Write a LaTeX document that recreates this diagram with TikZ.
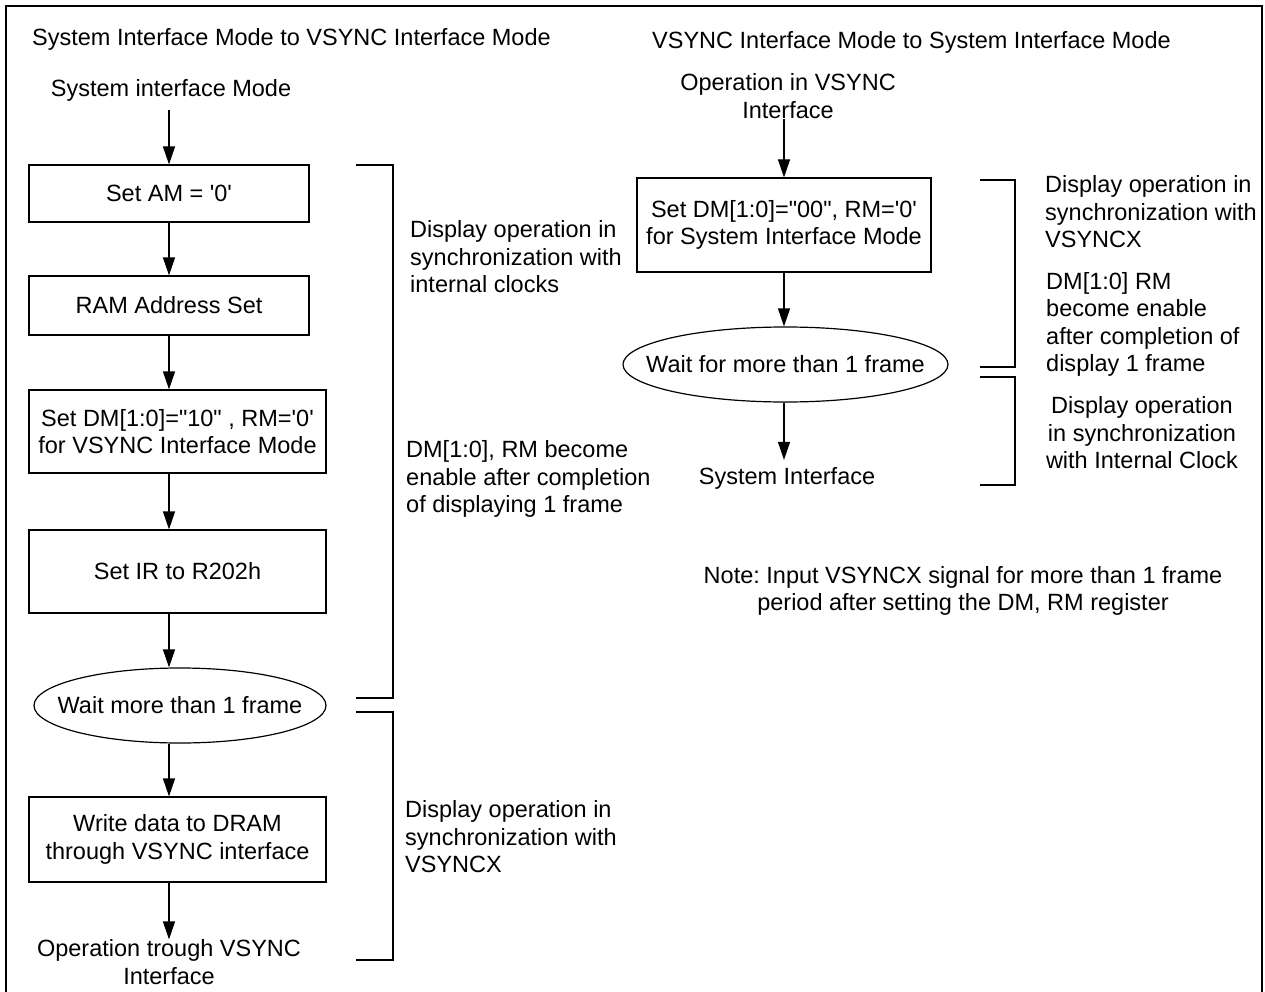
\documentclass[tikz,border=0pt]{standalone}
\usepackage{fontspec}
\setmainfont{Liberation Sans}
\frenchspacing
\usetikzlibrary{arrows.meta,shapes.geometric}
\newcommand{\sq}{\textquotesingle}
\newcommand{\dq}{\textquotedbl}
\tikzset{
  txt/.style={inner sep=0pt, align=center, font=\fontsize{23.5}{27.5}\selectfont},
  side/.style={txt, anchor=west, align=left},
  stepbox/.style={txt, rectangle, draw, line width=1.2pt},
  waitnode/.style={txt, ellipse, draw, line width=1.2pt},
  flow/.style={-{Triangle[length=18pt,width=12pt]}, line width=1.2pt},
  span/.style={line width=1.2pt},
  frame/.style={line width=1.5pt},
}

\begin{document}
\begin{tikzpicture}[x=1pt,y=-1pt]
\useasboundingbox (0,0) rectangle (1265,992);
\draw[frame] (6,1000) -- (6,6) -- (1262,6) -- (1262,1000);
% left: system -> vsync
\node[side] (ltitle) at (32,39) {System Interface Mode to VSYNC Interface Mode};
\node[txt] (sysmode) at (171,90) {System interface Mode};
\node[stepbox, minimum width=280pt, minimum height=57pt] (am) at (169,193.5) {Set AM = \sq0\sq};
\node[stepbox, minimum width=280pt, minimum height=59pt] (ram) at (169,305.5) {RAM Address Set};
\node[stepbox, minimum width=297pt, minimum height=83pt] (dm) at (177.5,431.5) {Set DM[1:0]=\dq10\dq\ , RM=\sq0\sq\\for VSYNC Interface Mode};
\node[stepbox, minimum width=297pt, minimum height=83pt] (ir) at (177.5,571.5) {Set IR to R202h};
\node[waitnode, minimum width=292pt, minimum height=75pt] (wait) at (180,705.5) {\makebox[0pt]{Wait more than 1 frame}};
\node[stepbox, minimum width=297pt, minimum height=85pt] (wr) at (177.5,839.5) {Write data to DRAM\\through VSYNC interface};
\node[txt] (opvs) at (169,962) {Operation trough VSYNC\\Interface};
\draw[flow] ([yshift=-9pt]sysmode.south -| am.north) -- (am.north);
\draw[flow] (am) -- (ram);
\draw[flow] (ram.south) -- (ram.south |- dm.north);
\draw[flow] (dm.south -| am.south) -- (ir.north -| am.south);
\draw[flow] (ir.south -| am.south) -- (wait.north -| am.south);
\draw[flow] (wait.south -| am.south) -- (wr.north -| am.south);
\draw[flow] (wr.south -| am.south) -- (opvs.north -| am.south);
\draw[span] (356,165) -- (393,165) -- (393,698) -- (356,698);
\draw[span] (356,712) -- (393,712) -- (393,960) -- (356,960);
\node[side] (lnote1) at (410,257) {Display operation in\\synchronization with\\internal clocks};
\node[side] (lnote2) at (406,479) {DM[1:0], RM become\\enable after completion\\of displaying 1 frame};
\node[side] (lnote3) at (405,837) {Display operation in\\synchronization with\\VSYNCX};
% right: vsync -> system
\node[side] (rtitle) at (652,42) {VSYNC Interface Mode to System Interface Mode};
\node[txt] (opin) at (788,96) {Operation in VSYNC\\Interface};
\node[stepbox, minimum width=294pt, minimum height=94pt] (dm0) at (784,225) {Set DM[1:0]=\dq00\dq, RM=\sq0\sq\\for System Interface Mode};
\node[waitnode, minimum width=325pt, minimum height=75pt] (wait2) at (785.5,364.5) {\makebox[0pt]{Wait for more than 1 frame}};
\node[txt] (sysif) at (787,478) {System Interface};
\draw[flow] (opin.south -| dm0.north) -- (dm0.north);
\draw[flow] (dm0.south) -- (wait2.north -| dm0.south);
\draw[flow] (wait2.south -| dm0.south) -- ([yshift=7pt]sysif.north -| dm0.south);
\draw[span] (980,180) -- (1015,180) -- (1015,367) -- (980,367);
\draw[span] (980,377) -- (1015,377) -- (1015,485) -- (980,485);
\node[side] (rnote1) at (1045,212) {Display operation in\\synchronization with\\VSYNCX};
\node[side] (rnote2) at (1046,324.5) {DM[1:0] RM\\become enable\\after completion of\\display 1 frame};
\node[txt] (rnote3) at (1142,433) {Display operation\\in synchronization\\with Internal Clock};
\node[txt] (note) at (963,591) {Note: Input VSYNCX signal for more than 1 frame\\period after setting the DM, RM register};
\end{tikzpicture}
\end{document}
